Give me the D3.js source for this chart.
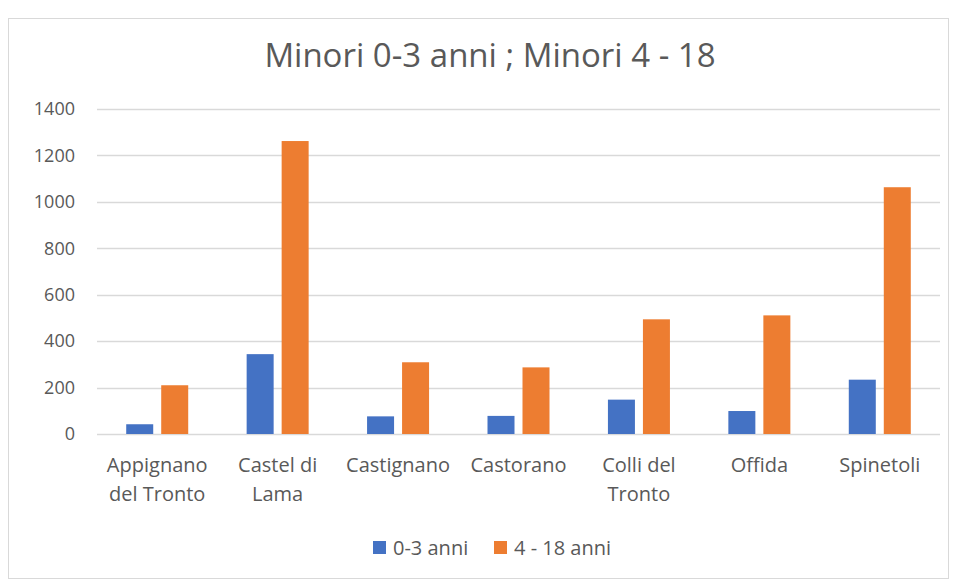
<!DOCTYPE html>
<html>
<head>
<meta charset="utf-8">
<script src="https://cdn.jsdelivr.net/npm/d3@7"></script>
<style>
  body { margin: 0; background: #fff; }
  text { font-family: "Open Sans", "Noto Sans", sans-serif; fill: #595959; }
</style>
</head>
<body>
<div id="chart"></div>
<script>
// Data
let categories = ["Appignano del Tronto", "Castel di Lama", "Castignano", "Castorano", "Colli del Tronto", "Offida", "Spinetoli"];
let labelLines = [["Appignano", "del Tronto"], ["Castel di", "Lama"], ["Castignano"], ["Castorano"], ["Colli del", "Tronto"], ["Offida"], ["Spinetoli"]];
let seriesNames = ["0-3 anni", "4 - 18 anni"];
let minori03 = [42, 344, 76, 78, 148, 99, 234];
let minori418 = [210, 1262, 309, 287, 494, 511, 1063];
let yTicks = [0, 200, 400, 600, 800, 1000, 1200, 1400];
let colors = ["#4472C4", "#ED7D31"];

let W = 957, H = 580;
let margin = { top: 109, right: 17, bottom: 146, left: 97 };
let width = W - margin.left - margin.right,
    height = H - margin.top - margin.bottom;

let svg = d3.select("#chart").append("svg")
    .attr("width", W)
    .attr("height", H);

// chart border
svg.append("rect")
    .attr("x", 8.5).attr("y", 18.5)
    .attr("width", 940).attr("height", 560)
    .attr("fill", "#fff")
    .attr("stroke", "#d9d9d9");

svg.append("text")
    .attr("x", 490).attr("y", 67)
    .attr("text-anchor", "middle")
    .style("font-size", "33px")
    .text("Minori 0-3 anni ; Minori 4 - 18");

let g = svg.append("g").attr("transform", `translate(${margin.left},${margin.top})`);

let x = d3.scaleBand().domain(categories).range([0, width]);
let y = d3.scaleLinear().domain([0, 1400]).range([height, 0]);

// gridlines
g.selectAll(".grid").data(yTicks).enter().append("line")
    .attr("x1", 0).attr("x2", width)
    .attr("y1", d => Math.round(y(d)) + 0.5)
    .attr("y2", d => Math.round(y(d)) + 0.5)
    .attr("stroke", "#d9d9d9")
    .attr("stroke-width", 1.5);

let yAxis = g.append("g").call(d3.axisLeft(y).tickValues(yTicks).tickFormat(d3.format("d")).tickSize(0).tickPadding(22));
yAxis.select(".domain").remove();
yAxis.selectAll("text").style("font-size", "18px").attr("fill", "#595959");

let barW = 27, gap = 8;
let series = [minori03, minori418];
series.forEach((vals, s) => {
    g.selectAll(".bar" + s).data(categories).enter().append("rect")
        .attr("x", d => x(d) + x.bandwidth() / 2 - (barW + gap / 2) + s * (barW + gap))
        .attr("y", (d, i) => y(vals[i]))
        .attr("width", barW)
        .attr("height", (d, i) => height - y(vals[i]))
        .attr("fill", colors[s]);
});

// category labels
categories.forEach((c, i) => {
    let t = g.append("text")
        .attr("x", x(c) + x.bandwidth() / 2)
        .attr("y", height + 38)
        .attr("text-anchor", "middle")
        .style("font-size", "20px");
    labelLines[i].forEach((l, k) => {
        t.append("tspan")
            .attr("x", x(c) + x.bandwidth() / 2)
            .attr("dy", k === 0 ? 0 : 29)
            .text(l);
    });
});

// legend
let legendX = [373, 494];
seriesNames.forEach((n, i) => {
    svg.append("rect")
        .attr("x", legendX[i]).attr("y", 541)
        .attr("width", 13).attr("height", 13)
        .attr("fill", colors[i]);
    svg.append("text")
        .attr("x", legendX[i] + 20).attr("y", 555)
        .style("font-size", "20px")
        .text(n);
});
</script>
</body>
</html>
